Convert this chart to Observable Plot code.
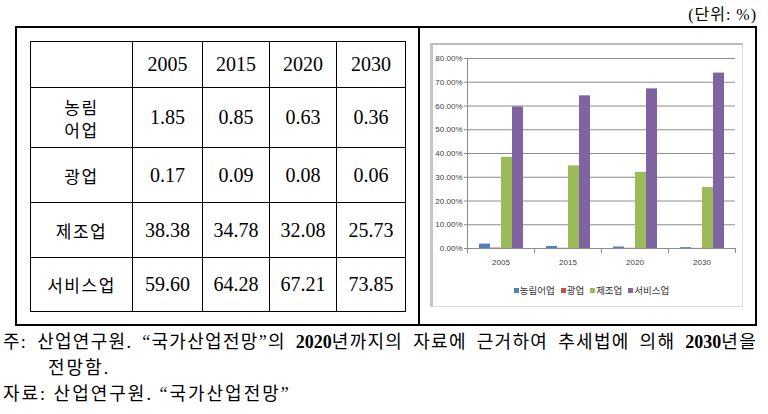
<!DOCTYPE html>
<html><head><meta charset="utf-8">
<script src="https://cdn.jsdelivr.net/npm/d3@7"></script>
<script src="https://cdn.jsdelivr.net/npm/@observablehq/plot@0.6"></script>
<style>
body{margin:0;background:#fff;width:768px;height:414px;position:relative;overflow:hidden;}
.abs{position:absolute;}
#unit{right:11px;top:1px;font:16px "Liberation Serif","Noto Sans CJK KR";color:#000;white-space:nowrap;letter-spacing:1px;}
#box{left:15px;top:26px;width:742px;height:300px;border:2px solid #000;box-sizing:border-box;}
#divider{left:418px;top:26px;width:2px;height:300px;background:#000;}
#tbl{left:30px;top:41px;border-collapse:collapse;table-layout:fixed;width:375px;}
#tbl td{border:1.5px solid #000;text-align:center;vertical-align:middle;padding:0;font:20px "Liberation Serif";color:#000;}
#tbl td.lab{font:17px "Noto Sans CJK KR";letter-spacing:1.5px;line-height:23px;white-space:pre-line;}
#cframe{left:430px;top:43px;width:313px;height:264px;box-sizing:border-box;border:1px solid #dcdcdc;border-left:3px solid #c4c4c4;border-top:2px solid #bcbcbc;}
#chart{left:430px;top:43px;}
#legend{left:438px;top:283px;width:313px;display:flex;justify-content:center;}
#legend div{min-height:0 !important;margin:0 !important;}
#legend .lg-swatches{font:9.5px "Noto Sans CJK KR" !important;color:#333 !important;}
#legend .lg-swatch{margin-right:6px !important;}
#legend .lg-swatch>svg{margin-right:1px !important;}
#notes{left:3px;top:329px;width:754px;font:18px "Liberation Serif","Noto Sans CJK KR";line-height:26px;color:#000;letter-spacing:2px;}
#notes b{letter-spacing:0;}
#notes .l1{text-align:justify;text-align-last:justify;white-space:nowrap;letter-spacing:1.3px;}
#notes .l2{padding-left:45px;}
</style>
</head>
<body>
<div id="unit" class="abs">(단위: %)</div>
<div id="box" class="abs"></div>
<div id="divider" class="abs"></div>
<table id="tbl" class="abs"></table>
<div id="cframe" class="abs"></div>
<div id="chart" class="abs"></div>
<div id="legend" class="abs"></div>
<div id="notes" class="abs">
  <div class="l1">주: 산업연구원. “국가산업전망”의 <b>2020</b>년까지의 자료에 근거하여 추세법에 의해 <b>2030</b>년을</div>
  <div class="l2">전망함.</div>
  <div>자료: 산업연구원. “국가산업전망”</div>
</div>
<script>
const years = ["2005", "2015", "2020", "2030"];
const sectors = ["농림어업", "광업", "제조업", "서비스업"];
const tableLabels = ["농림\n어업", "광업", "제조업", "서비스업"];
const agri = [1.85, 0.85, 0.63, 0.36];
const mining = [0.17, 0.09, 0.08, 0.06];
const manuf = [38.38, 34.78, 32.08, 25.73];
const service = [59.60, 64.28, 67.21, 73.85];
const yTicks = [0, 10, 20, 30, 40, 50, 60, 70, 80];
const colors = ["#4F81BD", "#C0504D", "#9BBB59", "#8064A2"];

const seriesValues = [agri, mining, manuf, service];

// Table
const colWidths = [102, 70, 67, 67, 69];
const rowHeights = [46, 60, 55, 55, 54];
const tbl = document.getElementById("tbl");
const cg = document.createElement("colgroup");
colWidths.forEach(w => { const c = document.createElement("col"); c.style.width = w + "px"; cg.appendChild(c); });
tbl.appendChild(cg);
const hr = document.createElement("tr");
hr.style.height = rowHeights[0] + "px";
hr.appendChild(document.createElement("td"));
years.forEach(y => { const td = document.createElement("td"); td.textContent = y; hr.appendChild(td); });
tbl.appendChild(hr);
sectors.forEach((s, j) => {
  const tr = document.createElement("tr");
  tr.style.height = rowHeights[j + 1] + "px";
  const lab = document.createElement("td");
  lab.className = "lab";
  lab.textContent = tableLabels[j];
  tr.appendChild(lab);
  seriesValues[j].forEach(v => { const td = document.createElement("td"); td.textContent = v.toFixed(2); tr.appendChild(td); });
  tbl.appendChild(tr);
});

// Chart
const rows = years.flatMap((yr, i) => sectors.map((s, j) => ({year: yr, sector: s, value: seriesValues[j][i]})));
const grid = "#8c8c8c";
const chart = Plot.plot({
  width: 313, height: 236,
  marginLeft: 37, marginRight: 8, marginTop: 15, marginBottom: 31,
  style: {fontFamily: '"Liberation Sans", sans-serif', fontSize: "8px", color: "#404040", background: "transparent", overflow: "visible"},
  fx: {domain: years, padding: 0, label: null},
  x: {domain: sectors, paddingInner: 0, paddingOuter: 0.86, axis: null},
  y: {domain: [0, 80], axis: null},
  color: {domain: sectors, range: colors},
  marks: [
    Plot.ruleY(yTicks, {stroke: grid, strokeWidth: 1}),
    Plot.barY(rows, {fx: "year", x: "sector", y: "value", fill: "sector"}),
    Plot.frame({anchor: "left", facetAnchor: "left", stroke: grid}),
    Plot.frame({anchor: "left", stroke: grid, insetTop: 190, insetBottom: -4}),
    Plot.frame({anchor: "right", stroke: grid, insetTop: 190, insetBottom: -4}),
    Plot.axisY(yTicks, {tickFormat: d => d.toFixed(2) + "%", tickSize: 3, tickPadding: 2, stroke: grid, label: null}),
    Plot.axisFx({anchor: "bottom", tickSize: 0, tickPadding: 11, label: null})
  ]
});
document.getElementById("chart").appendChild(chart);

const lg = Plot.legend({color: {domain: sectors, range: colors, type: "ordinal"}, legend: "swatches", swatchSize: 5, className: "lg"});
document.getElementById("legend").appendChild(lg);
</script>
</body></html>
